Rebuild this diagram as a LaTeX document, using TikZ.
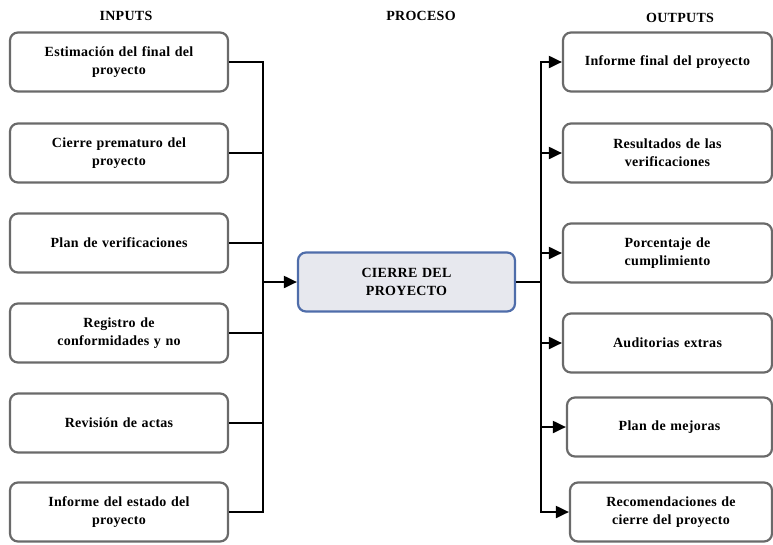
\documentclass[tikz,border=0pt]{standalone}
\usepackage{fontspec}
\setmainfont{Liberation Serif}[LetterSpace=2.0]
\usetikzlibrary{arrows.meta}

\definecolor{boxgray}{HTML}{6A6A6A}
\definecolor{procfill}{HTML}{E7E8EE}
\definecolor{procblue}{HTML}{4F6DAA}

\tikzset{
    inbox/.style={draw=boxgray, line width=2.2pt, rounded corners=8pt, fill=white,
        minimum width=218pt, minimum height=59pt, text width=200pt, align=center,
        font=\fontsize{14}{18}\selectfont\bfseries},
    outbox/.style={inbox, minimum width=209pt, text width=195pt},
    procbox/.style={inbox, draw=procblue, fill=procfill, minimum width=217pt},
    title/.style={font=\fontsize{14}{18}\selectfont\bfseries},
    conn/.style={line width=2pt, black},
    arr/.style={conn, -{Triangle[length=13pt,width=12pt]}}
}

\begin{document}
\begin{tikzpicture}[x=1pt, y=-1pt]
        \useasboundingbox (0,0) rectangle (773,544);

        \node[title] (tin) at (126,16) {INPUTS};
        \node[title] (tproc) at (421,16) {PROCESO};
        \node[title] (tout) at (680,18) {OUTPUTS};

        \node[inbox] (in1) at (119,62) {Estimación del final del\\proyecto};
        \node[inbox] (in2) at (119,153) {Cierre prematuro del\\proyecto};
        \node[inbox] (in3) at (119,243) {Plan de verificaciones};
        \node[inbox] (in4) at (119,333) {Registro de\\conformidades y no};
        \node[inbox] (in5) at (119,423) {Revisión de actas};
        \node[inbox] (in6) at (119,512) {Informe del estado del\\proyecto};

        \node[procbox] (cierre) at (406.5,282) {CIERRE DEL\\PROYECTO};

        \node[outbox] (out1) at (667.5,62) {Informe final del proyecto};
        \node[outbox] (out2) at (667.5,153) {Resultados de las\\verificaciones};
        \node[outbox] (out3) at (667.5,253) {Porcentaje de\\cumplimiento};
        \node[outbox] (out4) at (667.5,343) {Auditorias extras};
        \node[outbox, minimum width=205pt] (out5) at (669.5,427) {Plan de mejoras};
        \node[outbox, minimum width=202pt] (out6) at (671,512) {Recomendaciones de\\cierre del proyecto};

        \coordinate (busL) at (263,282);
        \coordinate (busR) at (541,282);

        \foreach \i in {1,...,6}
            \draw[conn] (in\i.east) -| (busL);
        \draw[arr] (busL) -- (cierre.west);

        \draw[conn] (cierre.east) -- (busR);
        \foreach \i in {1,...,6}
            \draw[arr] (busR) |- (out\i.west);

\end{tikzpicture}
\end{document}
